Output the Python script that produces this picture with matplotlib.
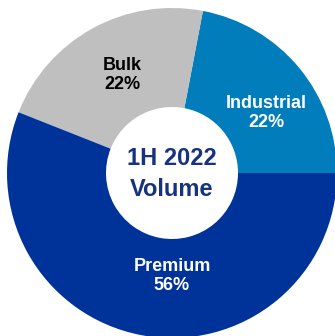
import matplotlib
matplotlib.use("Agg")
import matplotlib.pyplot as plt

categories = ["Industrial", "Bulk", "Premium"]
shares = [22, 22, 56]
colors = ["#007DBA", "#BFBFBF", "#003399"]
label_colors = ["white", "black", "white"]
center_title = "1H 2022\nVolume"

plt.rcParams["font.family"] = ["Liberation Sans", "DejaVu Sans"]

fig = plt.figure(figsize=(3.35, 3.36), dpi=100)
ax = fig.add_axes([0, 0, 1, 1])

cx, cy, r = 172, 163, 165
ax.pie(shares, colors=colors, startangle=0, counterclock=True,
       center=(cx, cy), radius=r, frame=True,
       wedgeprops=dict(width=r * 0.6, linewidth=0))
ax.set_xlim(0, 335)
ax.set_ylim(0, 336)
ax.set_aspect("equal")
ax.axis("off")

# label placement (offsets from centre, pixels)
offsets = [(94, 60), (-50, 98), (0, -103)]
for name, val, col, (dx, dy) in zip(categories, shares, label_colors, offsets):
    ax.text(cx + dx, cy + dy, f"{name}\n{val}%", ha="center", va="center",
            color=col, fontsize=13, fontweight="bold", linespacing=1.2)

ax.text(cx, cy - 1, center_title, ha="center", va="center", color="#17327F",
        fontsize=17, fontweight="bold", linespacing=1.4)

fig.savefig("out.png", dpi=100)
